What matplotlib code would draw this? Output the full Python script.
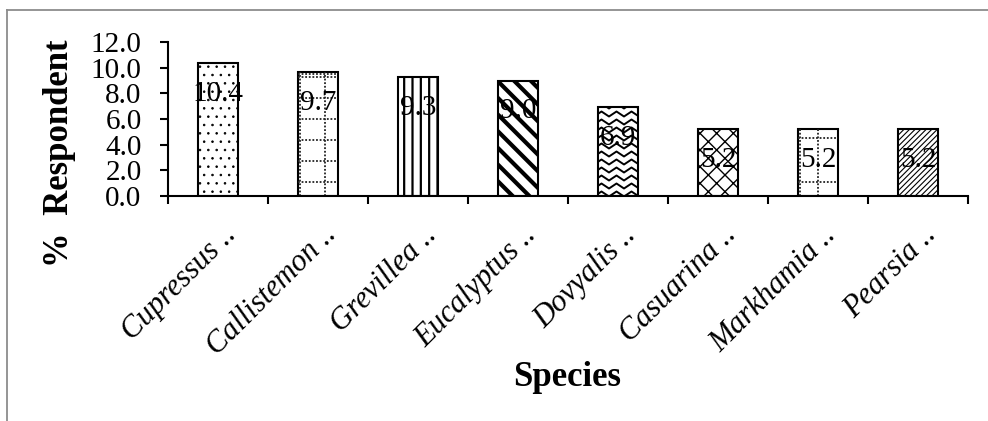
import numpy as np
import matplotlib
matplotlib.use("Agg")
import matplotlib.pyplot as plt
from matplotlib.lines import Line2D
import matplotlib.transforms as mtransforms

# ---------------- data ----------------
species = ["Cupressus", "Callistemon", "Grevillea", "Eucalyptus",
           "Dovyalis", "Casuarina", "Markhamia", "Pearsia"]
respondent_pct = [10.4, 9.7, 9.3, 9.0, 6.9, 5.2, 5.2, 5.2]
y_ticks = [0, 2, 4, 6, 8, 10, 12]
x_title = "Species"
y_title = "%  Respondent"

# ---------------- style ----------------
plt.rcParams["font.family"] = ["Liberation Serif", "DejaVu Serif"]
W, H = 988, 421
fig = plt.figure(figsize=(W / 100, H / 100), dpi=100)

ax_left, ax_right, ax_top, ax_bot = 168, 968, 42, 196
ax = fig.add_axes([ax_left / W, (H - ax_bot) / H,
                   (ax_right - ax_left) / W, (ax_bot - ax_top) / H])
n = len(species)
x = np.arange(n)
ax.set_xlim(-0.5, n - 0.5)
ax.set_ylim(0, 12)

# pixel -> data scale
sx = (n) / (ax_right - ax_left)
sy = 12 / (ax_bot - ax_top)

bar_w = 0.4
hatches = ["..", None, "||", "\\\\", None, "xx", None, "//////"]
hatch_lws = [0.6, 1.0, 1.6, 3.0, 1.0, 1.0, 1.0, 0.8]
hatch_cols = ["black", "black", "black", "black", "black", "#333333", "black", "#222222"]

bars = []
for i, (xi, v) in enumerate(zip(x, respondent_pct)):
    with plt.rc_context({"hatch.linewidth": hatch_lws[i],
                         "hatch.color": hatch_cols[i]}):
        b = ax.bar(xi, v, width=bar_w, facecolor="white", edgecolor="black",
                   linewidth=1.5, hatch=hatches[i], zorder=2)
    bars.append(b[0])


def clipped_line(patch, xs, ys, **kw):
    kw.setdefault("color", "black")
    ln = Line2D(xs, ys, zorder=2.5, **kw)
    ax.add_line(ln)
    ln.set_clip_path(patch)


dotted = dict(linewidth=1.3, linestyle=(0, (1, 1)), color="#222222")

# Callistemon: dotted grid
p = bars[1]
x0, h = p.get_x(), p.get_height()
for xo in (2, 27):
    clipped_line(p, [x0 + xo * sx] * 2, [0, h], **dotted)
for yo in np.arange(14, h / sy, 21):
    clipped_line(p, [x0, x0 + bar_w], [yo * sy] * 2, **dotted)
clipped_line(p, [x0, x0 + bar_w], [h - 2 * sy] * 2, **dotted)

# Dovyalis: zigzag waves
p = bars[4]
x0, h = p.get_x(), p.get_height()
step = 7.5
nx = int(40 / step) + 3
for yo in np.arange(2, h / sy + 8, 8):
    xs = x0 + (np.arange(nx) * step - 4) * sx
    ys = (yo + np.where(np.arange(nx) % 2 == 0, -2.5, 2.5)) * sy
    clipped_line(p, xs, ys, linewidth=1.4, color="black")

# Markhamia: sparse dotted grid
p = bars[6]
x0, h = p.get_x(), p.get_height()
clipped_line(p, [x0 + bar_w / 2] * 2, [0, h], **dotted)
clipped_line(p, [x0 + 2 * sx] * 2, [0, h], **dotted)
for yo in (14, 58):
    clipped_line(p, [x0, x0 + bar_w], [yo * sy] * 2, **dotted)

# value labels inside bars
for xi, v in zip(x, respondent_pct):
    ax.annotate(f"{v:.1f}", (xi, v), xytext=(0, -31), textcoords="offset pixels",
                ha="center", va="center", fontsize=21, zorder=3)

# axes styling
for s in ("top", "right"):
    ax.spines[s].set_visible(False)
for s in ("left", "bottom"):
    ax.spines[s].set_linewidth(1.5)

ax.set_yticks(y_ticks)
ax.set_yticklabels([f"{t:.1f}" for t in y_ticks], fontsize=21)
ax.tick_params(axis="y", direction="out", length=6, width=1.5, pad=13)

ax.set_xticks(np.arange(n + 1) - 0.5)
ax.set_xticklabels([])
ax.tick_params(axis="x", which="major", direction="out", length=6, width=1.5)
ax.set_xticks(x, minor=True)
ax.set_xticklabels([f"{s} .." for s in species], minor=True, fontsize=22,
                   style="italic", rotation=45, ha="right", va="center",
                   rotation_mode="anchor")
ax.tick_params(axis="x", which="minor", length=0, pad=25)
offset = mtransforms.ScaledTranslation(14 / 100, 0, fig.dpi_scale_trans)
for lab in ax.xaxis.get_minorticklabels():
    lab.set_transform(lab.get_transform() + offset)

fig.text(60 / W, 1 - 153 / H, y_title, rotation=90, ha="center", va="center",
         fontsize=25, fontweight="bold")
fig.text(567 / W, 1 - 378 / H, x_title, ha="center", va="center",
         fontsize=25, fontweight="bold")

# outer chart frame (top + left visible)
frame_kw = dict(color="#8c8c8c", linewidth=1.3, transform=fig.transFigure)
fig.add_artist(Line2D([7 / W, 7 / W], [0, 1 - 10 / H], **frame_kw))
fig.add_artist(Line2D([7 / W, 1], [1 - 10 / H, 1 - 10 / H], **frame_kw))

fig.savefig("out.png", dpi=100)
